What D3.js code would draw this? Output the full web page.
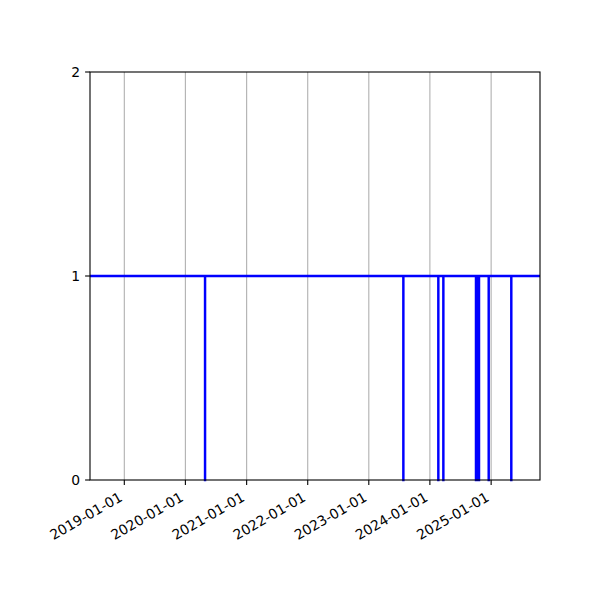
<!DOCTYPE html>
<html>
<head>
<meta charset="utf-8">
<script src="https://cdn.jsdelivr.net/npm/d3@7"></script>
<style>
  body { margin: 0; background: #fff; }
  text { font-family: "DejaVu Sans", sans-serif; font-size: 13.9px; fill: #000; }
</style>
</head>
<body>
<script>
// step data: value changes at these dates (value holds until the next date)
var dates = ['2018-06-10', '2020-04-27', '2020-04-28', '2023-07-26', '2023-07-27',
             '2024-02-20', '2024-02-21', '2024-03-21', '2024-03-22', '2024-10-02',
             '2024-10-08', '2024-10-09', '2024-10-15', '2024-10-16', '2024-10-21',
             '2024-12-17', '2024-12-18', '2025-05-01', '2025-05-02', '2025-10-20'];
var values = [1, 0, 1, 0, 1, 0, 1, 0, 1, 0, 1, 0, 1, 0, 1, 0, 1, 0, 1, 1];
var xTickLabels = ['2019-01-01', '2020-01-01', '2021-01-01', '2022-01-01',
                   '2023-01-01', '2024-01-01', '2025-01-01'];
var yTicks = [0, 1, 2];

var parse = d3.timeParse('%Y-%m-%d');
var data = dates.map(function(d, i) { return { date: parse(d), value: values[i] }; });

// plot box (note: "top" is taken by window.top)
var mLeft = 90, mRight = 540, mTop = 72, mBottom = 480;

var svg = d3.select('body').append('svg')
    .attr('width', 600)
    .attr('height', 600);

var x = d3.scaleTime()
    .domain([parse('2018-06-10'), parse('2025-10-20')])
    .range([mLeft, mRight]);
var y = d3.scaleLinear()
    .domain([0, 2])
    .range([mBottom, mTop]);

// vertical grid
svg.append('g').selectAll('line')
    .data(xTickLabels)
    .enter().append('line')
    .attr('x1', function(d) { return x(parse(d)); })
    .attr('x2', function(d) { return x(parse(d)); })
    .attr('y1', mTop)
    .attr('y2', mBottom)
    .attr('stroke', '#b0b0b0')
    .attr('stroke-width', 1.1);

var line = d3.line()
    .x(function(d) { return x(d.date); })
    .y(function(d) { return y(d.value); })
    .curve(d3.curveStepAfter);

svg.append('path')
    .datum(data)
    .attr('d', line)
    .attr('fill', 'none')
    .attr('stroke', '#0000ff')
    .attr('stroke-width', 2.3);

// frame
svg.append('rect')
    .attr('x', mLeft)
    .attr('y', mTop)
    .attr('width', mRight - mLeft)
    .attr('height', mBottom - mTop)
    .attr('fill', 'none')
    .attr('stroke', '#000')
    .attr('stroke-width', 1.1);

// x axis ticks + rotated labels
var xt = svg.append('g').selectAll('g')
    .data(xTickLabels)
    .enter().append('g')
    .attr('transform', function(d) { return 'translate(' + x(parse(d)) + ',' + mBottom + ')'; });
xt.append('line')
    .attr('y1', 0).attr('y2', 4.9)
    .attr('stroke', '#000').attr('stroke-width', 1.1);
xt.append('text')
    .attr('text-anchor', 'end')
    .attr('transform', 'translate(-1,20) rotate(-30)')
    .text(function(d) { return d; });

// y axis ticks
var yt = svg.append('g').selectAll('g')
    .data(yTicks)
    .enter().append('g')
    .attr('transform', function(d) { return 'translate(' + mLeft + ',' + y(d) + ')'; });
yt.append('line')
    .attr('x1', 0).attr('x2', -4.9)
    .attr('stroke', '#000').attr('stroke-width', 1.1);
yt.append('text')
    .attr('x', -9.8)
    .attr('dy', '0.36em')
    .attr('text-anchor', 'end')
    .text(function(d) { return d; });
</script>
</body>
</html>
